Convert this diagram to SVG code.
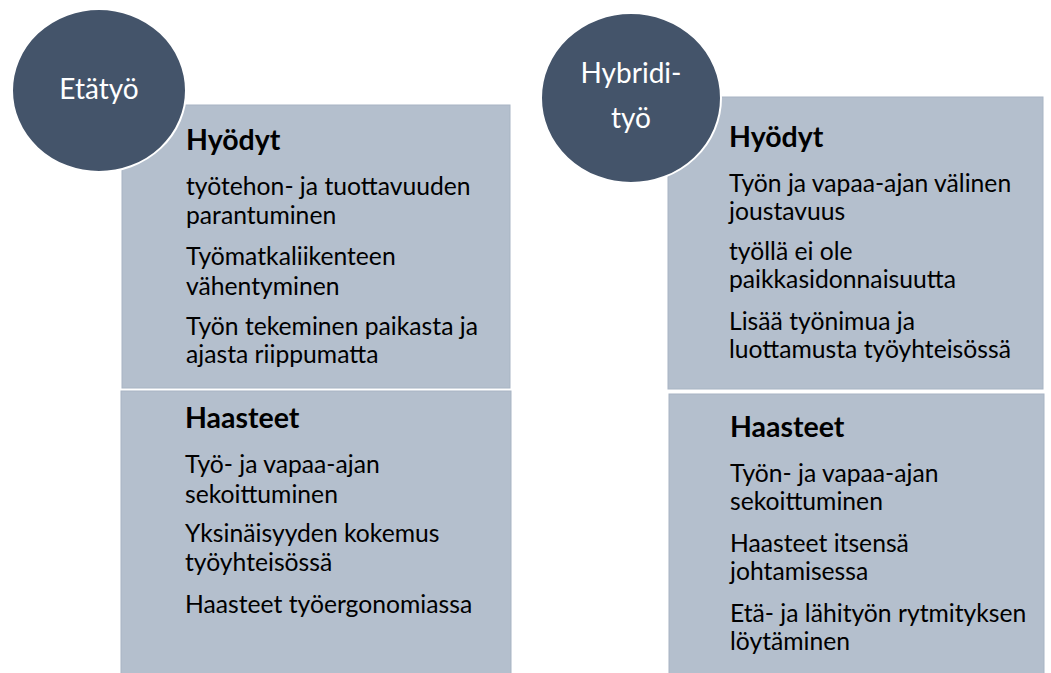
<svg xmlns="http://www.w3.org/2000/svg" width="1051" height="673" viewBox="0 0 1051 673">
<style>
.box{fill:#B4BFCD;stroke:#A8B4C3;stroke-width:1}
.circ{fill:#44546A;stroke:#FFFFFF;stroke-width:2}
.ct{font-family:Lato,"Liberation Sans",sans-serif;font-size:28px;fill:#FFFFFF;text-anchor:middle}
.h{font-family:Lato,"Liberation Sans",sans-serif;font-size:28.5px;font-weight:bold;fill:#000000}
.t{font-family:Lato,"Liberation Sans",sans-serif;font-size:24.7px;fill:#000000}
</style>
<rect width="1051" height="673" fill="#FFFFFF"/>
<g id="etatyo-hyodyt">
<rect class="box" x="122" y="105" width="388" height="283"/>
<text class="h" x="186" y="150">Hyödyt</text>
<text class="t" x="186" y="195">työtehon- ja tuottavuuden</text>
<text class="t" x="186" y="224">parantuminen</text>
<text class="t" x="186" y="265">Työmatkaliikenteen</text>
<text class="t" x="186" y="295">vähentyminen</text>
<text class="t" x="186" y="335">Työn tekeminen paikasta ja</text>
<text class="t" x="186" y="363">ajasta riippumatta</text>
</g>
<g id="etatyo-haasteet">
<rect class="box" x="121" y="391" width="390" height="290"/>
<text class="h" x="185" y="428">Haasteet</text>
<text class="t" x="185" y="473">Työ- ja vapaa-ajan</text>
<text class="t" x="185" y="503">sekoittuminen</text>
<text class="t" x="185" y="542">Yksinäisyyden kokemus</text>
<text class="t" x="185" y="571">työyhteisössä</text>
<text class="t" x="185" y="613">Haasteet työergonomiassa</text>
</g>
<g id="etatyo">
<ellipse class="circ" cx="99" cy="90.5" rx="87" ry="81.5"/>
<text class="ct" x="99" y="99">Etätyö</text>
</g>
<g id="hybridi-hyodyt">
<rect class="box" x="668" y="97" width="375" height="292"/>
<text class="h" x="729" y="147">Hyödyt</text>
<text class="t" x="729" y="192">Työn ja vapaa-ajan välinen</text>
<text class="t" x="729" y="220">joustavuus</text>
<text class="t" x="729" y="260">työllä ei ole</text>
<text class="t" x="729" y="288">paikkasidonnaisuutta</text>
<text class="t" x="729" y="330">Lisää työnimua ja</text>
<text class="t" x="729" y="358">luottamusta työyhteisössä</text>
</g>
<g id="hybridi-haasteet">
<rect class="box" x="669" y="394" width="375" height="290"/>
<text class="h" x="730" y="437">Haasteet</text>
<text class="t" x="730" y="482">Työn- ja vapaa-ajan</text>
<text class="t" x="730" y="510">sekoittuminen</text>
<text class="t" x="730" y="552">Haasteet itsensä</text>
<text class="t" x="730" y="580">johtamisessa</text>
<text class="t" x="730" y="622">Etä- ja lähityön rytmityksen</text>
<text class="t" x="730" y="650">löytäminen</text>
</g>
<g id="hybridi">
<ellipse class="circ" cx="631" cy="98" rx="90" ry="85"/>
<text class="ct" x="631" y="83">Hybridi-</text>
<text class="ct" x="631" y="128">työ</text>
</g>
<g id="connectors"></g>
</svg>
